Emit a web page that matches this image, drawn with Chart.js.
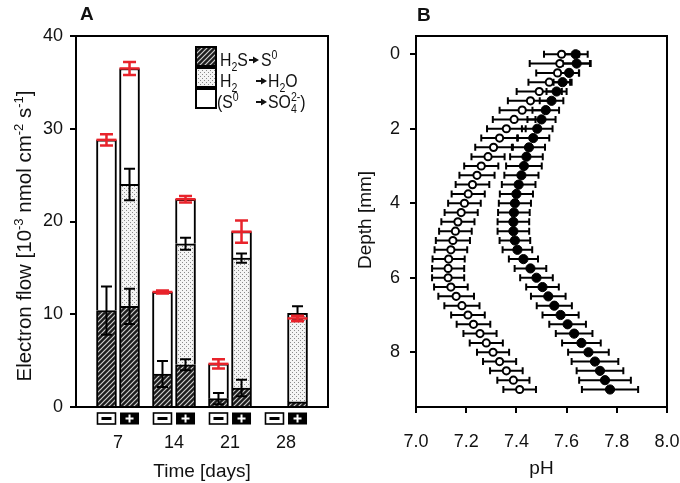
<!DOCTYPE html>
<html>
<head>
<meta charset="utf-8">
<script src="https://cdn.jsdelivr.net/npm/chart.js@4.4.0/dist/chart.umd.min.js"></script>
<style>
  html, body { margin: 0; padding: 0; background: #fff; overflow: hidden; }
  #wrap { position: relative; width: 680px; height: 483px; }
  #cA { position: absolute; left: 0; top: 0; }
  #cB { position: absolute; left: 340px; top: 0; }
</style>
</head>
<body>
<div id="wrap">
  <canvas id="cA" width="340" height="483" style="width:340px;height:483px"></canvas>
  <canvas id="cB" width="340" height="483" style="width:340px;height:483px"></canvas>
</div>
<script>
// Panel A: electron flow, bars ordered 7-, 7+, 14-, 14+, 21-, 21+, 28-, 28+
const days = [7, 14, 21, 28];
const treatments = ['-', '+'];
const fluxTicks = [0, 10, 20, 30, 40];

const h2sFlow = [10.4, 10.85, 3.55, 4.55, 0.9, 2.05, null, 0.55];
const h2sErr = [2.6, 1.9, 1.4, 0.6, 0.6, 0.9, null, null];
const h2Flow = [null, 13.15, null, 13.05, null, 14.0, null, 9.55];
const h2Err = [null, 1.7, null, 0.65, null, 0.5, null, 0.75];
const s0Flow = [18.4, 12.5, 8.85, 4.8, 3.75, 2.85, null, null];
const totalFlow = [28.8, 36.5, 12.4, 22.4, 4.65, 18.9, null, 9.55];
const totalErr = [0.6, 0.7, 0.15, 0.35, 0.5, 1.2, null, 0.3];

// Panel B: pH profiles
const depth = [0, 0.25, 0.5, 0.75, 1, 1.25, 1.5, 1.75, 2, 2.25, 2.5, 2.75, 3, 3.25, 3.5, 3.75,
  4, 4.25, 4.5, 4.75, 5, 5.25, 5.5, 5.75, 6, 6.25, 6.5, 6.75, 7, 7.25, 7.5, 7.75, 8, 8.25, 8.5, 8.75, 9];
const phOpen = [7.58, 7.573, 7.564, 7.531, 7.491, 7.456, 7.423, 7.391, 7.36, 7.333, 7.309, 7.287,
  7.26, 7.243, 7.225, 7.208, 7.193, 7.18, 7.167, 7.157, 7.147, 7.139, 7.13, 7.128, 7.128, 7.139,
  7.16, 7.183, 7.207, 7.229, 7.255, 7.28, 7.307, 7.333, 7.36, 7.388, 7.413];
const phOpenErr = [0.07, 0.12, 0.085, 0.083, 0.09, 0.09, 0.09, 0.085, 0.077, 0.073, 0.073, 0.066,
  0.068, 0.07, 0.067, 0.066, 0.065, 0.066, 0.066, 0.065, 0.068, 0.065, 0.064, 0.064, 0.064, 0.067,
  0.071, 0.07, 0.067, 0.067, 0.066, 0.066, 0.064, 0.066, 0.065, 0.064, 0.065];
const phFilled = [7.636, 7.64, 7.61, 7.584, 7.56, 7.54, 7.517, 7.5, 7.483, 7.467, 7.45, 7.44,
  7.43, 7.42, 7.409, 7.4, 7.394, 7.39, 7.388, 7.388, 7.394, 7.404, 7.428, 7.456, 7.48, 7.504,
  7.527, 7.551, 7.576, 7.604, 7.63, 7.659, 7.687, 7.713, 7.733, 7.753, 7.773];
const phFilledErr = [0.048, 0.056, 0.04, 0.036, 0.04, 0.047, 0.053, 0.056, 0.061, 0.064, 0.064, 0.065,
  0.071, 0.068, 0.067, 0.066, 0.064, 0.063, 0.063, 0.063, 0.061, 0.059, 0.058, 0.063, 0.065, 0.065,
  0.069, 0.07, 0.072, 0.073, 0.073, 0.077, 0.081, 0.093, 0.093, 0.103, 0.112];
const phTicks = [7.0, 7.2, 7.4, 7.6, 7.8, 8.0];
const depthTicks = [0, 2, 4, 6, 8];

const FONT = "'Liberation Sans', Arial, Helvetica, sans-serif";
const FS = 18;
const TXT = '#111';
const RED = '#e8232b';
const BAR_OFFSET = 1.44;   // days between group centre and each bar

function barX(i) {
  const g = Math.floor(i / 2);
  return days[g] + (i % 2 === 0 ? -BAR_OFFSET : BAR_OFFSET);
}
function pts(arr) {
  return arr.map((v, i) => ({ x: barX(i), y: v }));
}

// fill patterns
function makeHatch() {
  const c = document.createElement('canvas');
  c.width = 5; c.height = 5;
  const g = c.getContext('2d');
  g.fillStyle = '#1c1c1c';
  g.fillRect(0, 0, 5, 5);
  g.strokeStyle = '#cfcfcf';
  g.lineWidth = 1.2;
  g.beginPath();
  g.moveTo(0, 5); g.lineTo(5, 0);
  g.moveTo(-2.5, 2.5); g.lineTo(2.5, -2.5);
  g.moveTo(2.5, 7.5); g.lineTo(7.5, 2.5);
  g.stroke();
  return g.createPattern(c, 'repeat');
}
function makeDots() {
  const c = document.createElement('canvas');
  c.width = 4; c.height = 4;
  const g = c.getContext('2d');
  g.fillStyle = '#f4f4f4';
  g.fillRect(0, 0, 4, 4);
  g.fillStyle = '#8a8a8a';
  g.fillRect(0, 0, 1, 1);
  g.fillRect(2, 2, 1, 1);
  return g.createPattern(c, 'repeat');
}

// text pieces with sub/superscripts: f = {big, small, sub, sup, sx}
function richWidth(ctx, parts, f) {
  let w = 0;
  parts.forEach(p => {
    ctx.font = (p.s ? f.small : f.big) + 'px ' + FONT;
    if (!p.keep) w += ctx.measureText(p.t).width;
  });
  return w * (f.sx || 1);
}
function drawRich(ctx, x, y, parts, f) {
  ctx.save();
  ctx.translate(x, y);
  ctx.scale(f.sx || 1, 1);
  let cx = 0;
  parts.forEach(p => {
    ctx.font = (p.s ? f.small : f.big) + 'px ' + FONT;
    ctx.fillText(p.t, cx, p.s === 'sub' ? f.sub : p.s === 'sup' ? f.sup : 0);
    if (!p.keep) cx += ctx.measureText(p.t).width;
  });
  ctx.restore();
}
function drawArrow(ctx, x0, x1, y) {
  ctx.save();
  ctx.strokeStyle = TXT; ctx.fillStyle = TXT; ctx.lineWidth = 2;
  ctx.beginPath(); ctx.moveTo(x0, y); ctx.lineTo(x1 - 4, y); ctx.stroke();
  ctx.beginPath(); ctx.moveTo(x1 - 6, y - 3.5); ctx.lineTo(x1, y); ctx.lineTo(x1 - 6, y + 3.5); ctx.closePath(); ctx.fill();
  ctx.restore();
}
function errBar(ctx, x, y0, y1, cap, color, lw) {
  ctx.save();
  ctx.strokeStyle = color; ctx.lineWidth = lw;
  ctx.beginPath();
  ctx.moveTo(x, y0); ctx.lineTo(x, y1);
  ctx.moveTo(x - cap / 2, y0); ctx.lineTo(x + cap / 2, y0);
  ctx.moveTo(x - cap / 2, y1); ctx.lineTo(x + cap / 2, y1);
  ctx.stroke();
  ctx.restore();
}

const hatchFill = makeHatch();
const dotFill = makeDots();

const panelA = {
  id: 'panelA',
  afterDatasetsDraw(chart) {
    const ctx = chart.ctx, xs = chart.scales.x, ys = chart.scales.y;
    for (let i = 0; i < totalFlow.length; i++) {
      const cx = xs.getPixelForValue(barX(i));
      if (h2sErr[i] != null) {
        const v = h2sFlow[i];
        errBar(ctx, cx, ys.getPixelForValue(v + h2sErr[i]), ys.getPixelForValue(v - h2sErr[i]), 11, '#000', 2);
      }
      if (h2Err[i] != null) {
        const v = (h2sFlow[i] || 0) + h2Flow[i];
        errBar(ctx, cx, ys.getPixelForValue(v + h2Err[i]), ys.getPixelForValue(v - h2Err[i]), 11, '#000', 2);
      }
      if (totalFlow[i] != null) {
        const y = ys.getPixelForValue(totalFlow[i]);
        ctx.save();
        ctx.strokeStyle = RED; ctx.lineWidth = 2.5;
        ctx.beginPath(); ctx.moveTo(cx - 10, y); ctx.lineTo(cx + 10, y); ctx.stroke();
        ctx.restore();
        errBar(ctx, cx, ys.getPixelForValue(totalFlow[i] + totalErr[i]), ys.getPixelForValue(totalFlow[i] - totalErr[i]), 13, RED, 2.5);
      }
    }
  },
  afterDraw(chart) {
    const ctx = chart.ctx, a = chart.chartArea, xs = chart.scales.x;
    ctx.save();
    // frame
    ctx.strokeStyle = '#000'; ctx.lineWidth = 2;
    ctx.beginPath();
    ctx.moveTo(a.left - 6, a.top); ctx.lineTo(a.right, a.top); ctx.lineTo(a.right, a.bottom); ctx.lineTo(a.left - 6, a.bottom);
    ctx.moveTo(a.left, a.top); ctx.lineTo(a.left, a.bottom);
    ctx.stroke();
    // treatment boxes under the axis
    for (let i = 0; i < totalFlow.length; i++) {
      const cx = xs.getPixelForValue(barX(i));
      const top = a.bottom + 6;
      if (treatments[i % 2] === '-') {
        ctx.fillStyle = '#fff'; ctx.fillRect(cx - 9, top, 18, 11);
        ctx.lineWidth = 1.6; ctx.strokeStyle = '#000'; ctx.strokeRect(cx - 9, top, 18, 11);
        ctx.fillStyle = '#000'; ctx.fillRect(cx - 5, top + 4, 10, 3);
      } else {
        ctx.fillStyle = '#000'; ctx.fillRect(cx - 9.5, top - 0.5, 19, 12);
        ctx.fillStyle = '#fff';
        ctx.fillRect(cx - 4, top + 4.5, 8, 2);
        ctx.fillRect(cx - 1, top + 1.5, 2, 8);
      }
    }
    ctx.fillStyle = TXT;
    ctx.textBaseline = 'alphabetic';
    // x tick labels
    ctx.textAlign = 'center';
    ctx.font = FS + 'px ' + FONT;
    days.forEach(d => ctx.fillText(String(d), xs.getPixelForValue(d), 448));
    // axis titles
    ctx.font = '19px ' + FONT;
    ctx.fillText('Time [days]', (a.left + a.right) / 2, 477);
    const yTitle = [
      { t: 'Electron flow [10' }, { t: '-3', s: 'sup' }, { t: ' nmol cm' }, { t: '-2', s: 'sup' },
      { t: ' s' }, { t: '-1', s: 'sup' }, { t: ']' }
    ];
    const tf = { big: 20.5, small: 13, sub: 5, sup: -8.5 };
    ctx.textAlign = 'left';
    const w = richWidth(ctx, yTitle, tf);
    ctx.save();
    ctx.translate(31, 236);
    ctx.rotate(-Math.PI / 2);
    drawRich(ctx, -w / 2, 0, yTitle, tf);
    ctx.restore();
    // panel letter
    ctx.font = 'bold 19px ' + FONT;
    ctx.fillText('A', 80, 20);
    // legend
    const boxes = [hatchFill, dotFill, '#fff'];
    const rowTop = [47, 68, 89];
    for (let r = 0; r < 3; r++) {
      ctx.fillStyle = boxes[r];
      ctx.fillRect(196, rowTop[r], 20, 19);
      ctx.strokeStyle = '#000'; ctx.lineWidth = 2;
      ctx.strokeRect(196, rowTop[r], 20, 19);
    }
    ctx.fillStyle = TXT;
    const lf = { big: 18, small: 12, sub: 5, sup: -7, sx: 0.88 };
    let y = rowTop[0] + 19;
    drawRich(ctx, 220, y, [{ t: 'H' }, { t: '2', s: 'sub' }, { t: 'S' }], lf);
    drawArrow(ctx, 249, 259, y - 6);
    drawRich(ctx, 261, y, [{ t: 'S' }, { t: '0', s: 'sup' }], lf);
    y = rowTop[1] + 19;
    drawRich(ctx, 220, y, [{ t: 'H' }, { t: '2', s: 'sub' }], lf);
    drawArrow(ctx, 256, 267, y - 6);
    drawRich(ctx, 268, y, [{ t: 'H' }, { t: '2', s: 'sub' }, { t: 'O' }], lf);
    y = rowTop[2] + 19;
    drawRich(ctx, 217, y, [{ t: '(S' }, { t: '0', s: 'sup' }], lf);
    drawArrow(ctx, 256, 267, y - 6);
    drawRich(ctx, 268, y, [{ t: 'SO' }, { t: '4', s: 'sub', keep: true }, { t: '2-', s: 'sup' }, { t: ')' }], lf);
    ctx.restore();
  }
};

const barCommon = { borderColor: '#000', borderWidth: 2, barThickness: 20 };

new Chart(document.getElementById('cA'), {
  type: 'bar',
  data: {
    datasets: [
      Object.assign({ label: 'H2S', data: pts(h2sFlow), backgroundColor: hatchFill }, barCommon),
      Object.assign({ label: 'H2', data: pts(h2Flow), backgroundColor: dotFill }, barCommon),
      Object.assign({ label: 'S0', data: pts(s0Flow), backgroundColor: '#fff' }, barCommon)
    ]
  },
  options: {
    responsive: false,
    animation: false,
    layout: { padding: { left: 0, top: 36, right: 12, bottom: 0 } },
    plugins: { legend: { display: false }, tooltip: { enabled: false } },
    scales: {
      x: {
        type: 'linear', min: 1.75, max: 33.25, stacked: true, offset: false,
        afterFit: s => { s.height = 76; },
        afterBuildTicks: s => { s.ticks = days.map(v => ({ value: v })); },
        grid: { display: false, drawTicks: false },
        border: { display: false },
        ticks: { display: false }
      },
      y: {
        min: 0, max: 40, stacked: true,
        afterFit: s => { s.width = 76; },
        afterBuildTicks: s => { s.ticks = fluxTicks.map(v => ({ value: v })); },
        grid: { drawOnChartArea: false, drawTicks: true, tickLength: 6, color: '#000', lineWidth: 2 },
        border: { display: false },
        ticks: { padding: 7, color: TXT, font: { family: FONT, size: FS } }
      }
    }
  },
  plugins: [panelA]
});

const panelB = {
  id: 'panelB',
  beforeDatasetsDraw(chart) {
    const ctx = chart.ctx, xs = chart.scales.x, ys = chart.scales.y;
    const series = [[phOpen, phOpenErr], [phFilled, phFilledErr]];
    ctx.save();
    ctx.strokeStyle = '#000'; ctx.lineWidth = 2;
    series.forEach(([vals, errs]) => {
      vals.forEach((v, i) => {
        const y = ys.getPixelForValue(depth[i]);
        const x0 = xs.getPixelForValue(v - errs[i]);
        const x1 = xs.getPixelForValue(v + errs[i]);
        ctx.beginPath();
        ctx.moveTo(x0, y); ctx.lineTo(x1, y);
        ctx.moveTo(x0, y - 3.5); ctx.lineTo(x0, y + 3.5);
        ctx.moveTo(x1, y - 3.5); ctx.lineTo(x1, y + 3.5);
        ctx.stroke();
      });
    });
    ctx.restore();
  },
  afterDraw(chart) {
    const ctx = chart.ctx, a = chart.chartArea, xs = chart.scales.x;
    ctx.save();
    ctx.strokeStyle = '#000'; ctx.lineWidth = 2;
    ctx.strokeRect(a.left, a.top, a.right - a.left, a.bottom - a.top);
    ctx.fillStyle = TXT;
    ctx.textAlign = 'center';
    ctx.font = FS + 'px ' + FONT;
    phTicks.forEach(v => ctx.fillText(v.toFixed(1), xs.getPixelForValue(v), 447));
    ctx.font = '19px ' + FONT;
    ctx.fillText('pH', (a.left + a.right) / 2, 474);
    ctx.save();
    ctx.translate(31, 220);
    ctx.rotate(-Math.PI / 2);
    ctx.fillText('Depth [mm]', 0, 0);
    ctx.restore();
    ctx.textAlign = 'left';
    ctx.font = 'bold 19px ' + FONT;
    ctx.fillText('B', 77, 21);
    ctx.restore();
  }
};

new Chart(document.getElementById('cB'), {
  type: 'scatter',
  data: {
    datasets: [
      {
        label: 'filled', data: depth.map((d, i) => ({ x: phFilled[i], y: d })),
        pointRadius: 4.6, pointBackgroundColor: '#000', pointBorderColor: '#000', pointBorderWidth: 1
      },
      {
        label: 'open', data: depth.map((d, i) => ({ x: phOpen[i], y: d })),
        pointRadius: 3.6, pointBackgroundColor: '#fff', pointBorderColor: '#000', pointBorderWidth: 2
      }
    ]
  },
  options: {
    responsive: false,
    animation: false,
    layout: { padding: { left: 0, top: 36, right: 13, bottom: 0 } },
    plugins: { legend: { display: false }, tooltip: { enabled: false } },
    scales: {
      x: {
        type: 'linear', min: 7, max: 8,
        afterFit: s => { s.height = 76; },
        afterBuildTicks: s => { s.ticks = phTicks.map(v => ({ value: v })); },
        grid: { drawOnChartArea: false, drawTicks: true, tickLength: 6, color: '#000', lineWidth: 2 },
        border: { display: false },
        ticks: { display: false }
      },
      y: {
        type: 'linear', min: -0.49, max: 9.47, reverse: true,
        afterFit: s => { s.width = 76; },
        afterBuildTicks: s => { s.ticks = depthTicks.map(v => ({ value: v })); },
        grid: { drawOnChartArea: false, drawTicks: true, tickLength: 6, color: '#000', lineWidth: 2 },
        border: { display: false },
        ticks: { padding: 10, color: TXT, font: { family: FONT, size: FS } }
      }
    }
  },
  plugins: [panelB]
});
</script>
</body>
</html>
